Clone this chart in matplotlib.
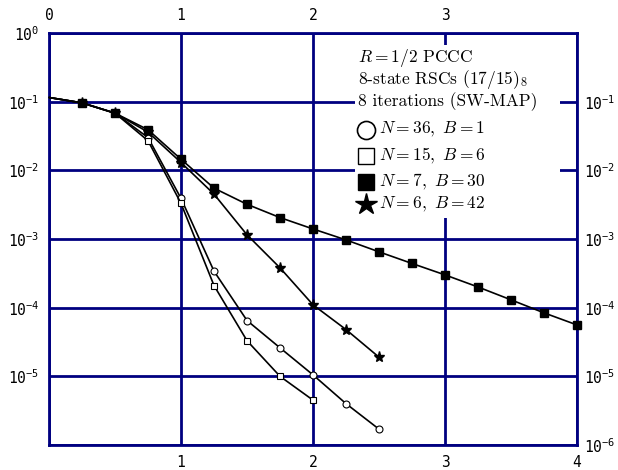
import matplotlib
matplotlib.use('Agg')
import matplotlib.pyplot as plt
from matplotlib.patches import Rectangle
import numpy as np

# tick label font: mono, math superscripts in same font
plt.rcParams['mathtext.fontset'] = 'custom'
plt.rcParams['mathtext.rm'] = 'DejaVu Sans Mono'
plt.rcParams['mathtext.it'] = 'DejaVu Sans Mono'
plt.rcParams['font.family'] = 'DejaVu Sans Mono'

navy = '#000080'

# data (Eb/N0 in dB vs BER)
circ_x = [0, 0.25, 0.5, 0.75, 1, 1.25, 1.5, 1.75, 2, 2.25, 2.5]
circ_y = [0.115, 0.096, 0.068, 0.030, 3.9e-3, 3.4e-4, 6.5e-5, 2.6e-5, 1.05e-5, 4.0e-6, 1.7e-6]

sq_x = [0, 0.25, 0.5, 0.75, 1, 1.25, 1.5, 1.75, 2]
sq_y = [0.115, 0.096, 0.068, 0.027, 3.3e-3, 2.1e-4, 3.3e-5, 1.0e-5, 4.5e-6]

fsq_x = [0, 0.25, 0.5, 0.75, 1, 1.25, 1.5, 1.75, 2, 2.25, 2.5, 2.75, 3, 3.25, 3.5, 3.75, 4]
fsq_y = [0.115, 0.096, 0.068, 0.039, 0.0145, 5.5e-3, 3.2e-3, 2.05e-3, 1.4e-3, 9.7e-4,
         6.5e-4, 4.4e-4, 3.0e-4, 2.0e-4, 1.3e-4, 8.4e-5, 5.6e-5]

star_x = [0, 0.25, 0.5, 0.75, 1, 1.25, 1.5, 1.75, 2, 2.25, 2.5]
star_y = [0.115, 0.096, 0.068, 0.036, 0.013, 4.5e-3, 1.15e-3, 3.8e-4, 1.1e-4, 4.8e-5, 1.9e-5]

xticks = [0, 1, 2, 3, 4]
bottom_labels = ['', '1', '2', '3', '4']
top_labels = ['0', '1', '2', '3', '']
yticks = [1e0, 1e-1, 1e-2, 1e-3, 1e-4, 1e-5, 1e-6]
left_labels = [r'$10^{0}$', r'$10^{-1}$', r'$10^{-2}$', r'$10^{-3}$', r'$10^{-4}$', r'$10^{-5}$', '']
right_labels = ['', r'$10^{-1}$', r'$10^{-2}$', r'$10^{-3}$', r'$10^{-4}$', r'$10^{-5}$', r'$10^{-6}$']

header = [r'$R = 1/2$ PCCC', r'8-state RSCs $(17/15)_8$', '8 iterations (SW-MAP)']
entries = [r'$N = 36,\ B = 1$', r'$N = 15,\ B = 6$', r'$N = 7,\ B = 30$', r'$N = 6,\ B = 42$']

fig = plt.figure(figsize=(6.18, 4.70), dpi=100)
ax = fig.add_axes([0.0793, 0.0532, 0.8544, 0.8766])

ax.set_yscale('log')
ax.set_xlim(0, 4)
ax.set_ylim(1e-6, 1)
ax.set_axisbelow(True)
ax.grid(True, color=navy, lw=2)
for s in ax.spines.values():
    s.set_color(navy)
    s.set_linewidth(2)
ax.set_xticks(xticks)
ax.set_xticklabels(bottom_labels)
ax.set_yticks(yticks)
ax.set_yticklabels(left_labels)
ax.minorticks_off()
ax.tick_params(length=0, labelsize=10.5, pad=7)

# right and top labels
axr = ax.twinx()
axr.set_yscale('log')
axr.set_ylim(1e-6, 1)
axr.set_yticks(yticks)
axr.set_yticklabels(right_labels)
axr.minorticks_off()
axr.tick_params(length=0, labelsize=10.5, pad=5)
axt = ax.twiny()
axt.set_xlim(0, 4)
axt.set_xticks(xticks)
axt.set_xticklabels(top_labels)
axt.tick_params(length=0, labelsize=10.5, pad=7)
for a in (axr, axt):
    for s in a.spines.values():
        s.set_visible(False)

lw = 1.2
skip0 = slice(1, None)
ax.plot(circ_x, circ_y, '-o', color='k', lw=lw, ms=5, mfc='white', mec='k', mew=0.8,
        markevery=skip0, zorder=3)
ax.plot(sq_x, sq_y, '-s', color='k', lw=lw, ms=4.5, mfc='white', mec='k', mew=0.8,
        markevery=skip0, zorder=3)
ax.plot(fsq_x, fsq_y, '-s', color='k', lw=lw, ms=5.5, mfc='k', mec='k',
        markevery=skip0, zorder=3, clip_on=False)
ax.plot(star_x, star_y, '-*', color='k', lw=lw, ms=8, mfc='k', mec='k',
        markevery=skip0, zorder=3)

# legend box (white, covers grid)
ax.add_patch(Rectangle((0.58, 0.551), 0.388, 0.42, transform=ax.transAxes,
                       facecolor='white', edgecolor='none', zorder=1))

tfont = dict(family='cmr10', math_fontfamily='cm', fontsize=12.5, va='center', ha='left')
hy = [0.939, 0.886, 0.833]
for y, t in zip(hy, header):
    ax.text(0.585, y, t, transform=ax.transAxes, zorder=4, **tfont)

ey = [0.765, 0.701, 0.638, 0.584]
mk = [dict(marker='o', ms=13, mfc='white', mec='k', mew=1.2),
      dict(marker='s', ms=11, mfc='white', mec='k', mew=1.0),
      dict(marker='s', ms=12, mfc='k', mec='k'),
      dict(marker='*', ms=16, mfc='k', mec='k')]
for y, t, m in zip(ey, entries, mk):
    ax.plot([0.6], [y], transform=ax.transAxes, ls='none', zorder=4, clip_on=False, **m)
    ax.text(0.625, y, t, transform=ax.transAxes, zorder=4, **tfont)

fig.savefig('out.png', dpi=100)
